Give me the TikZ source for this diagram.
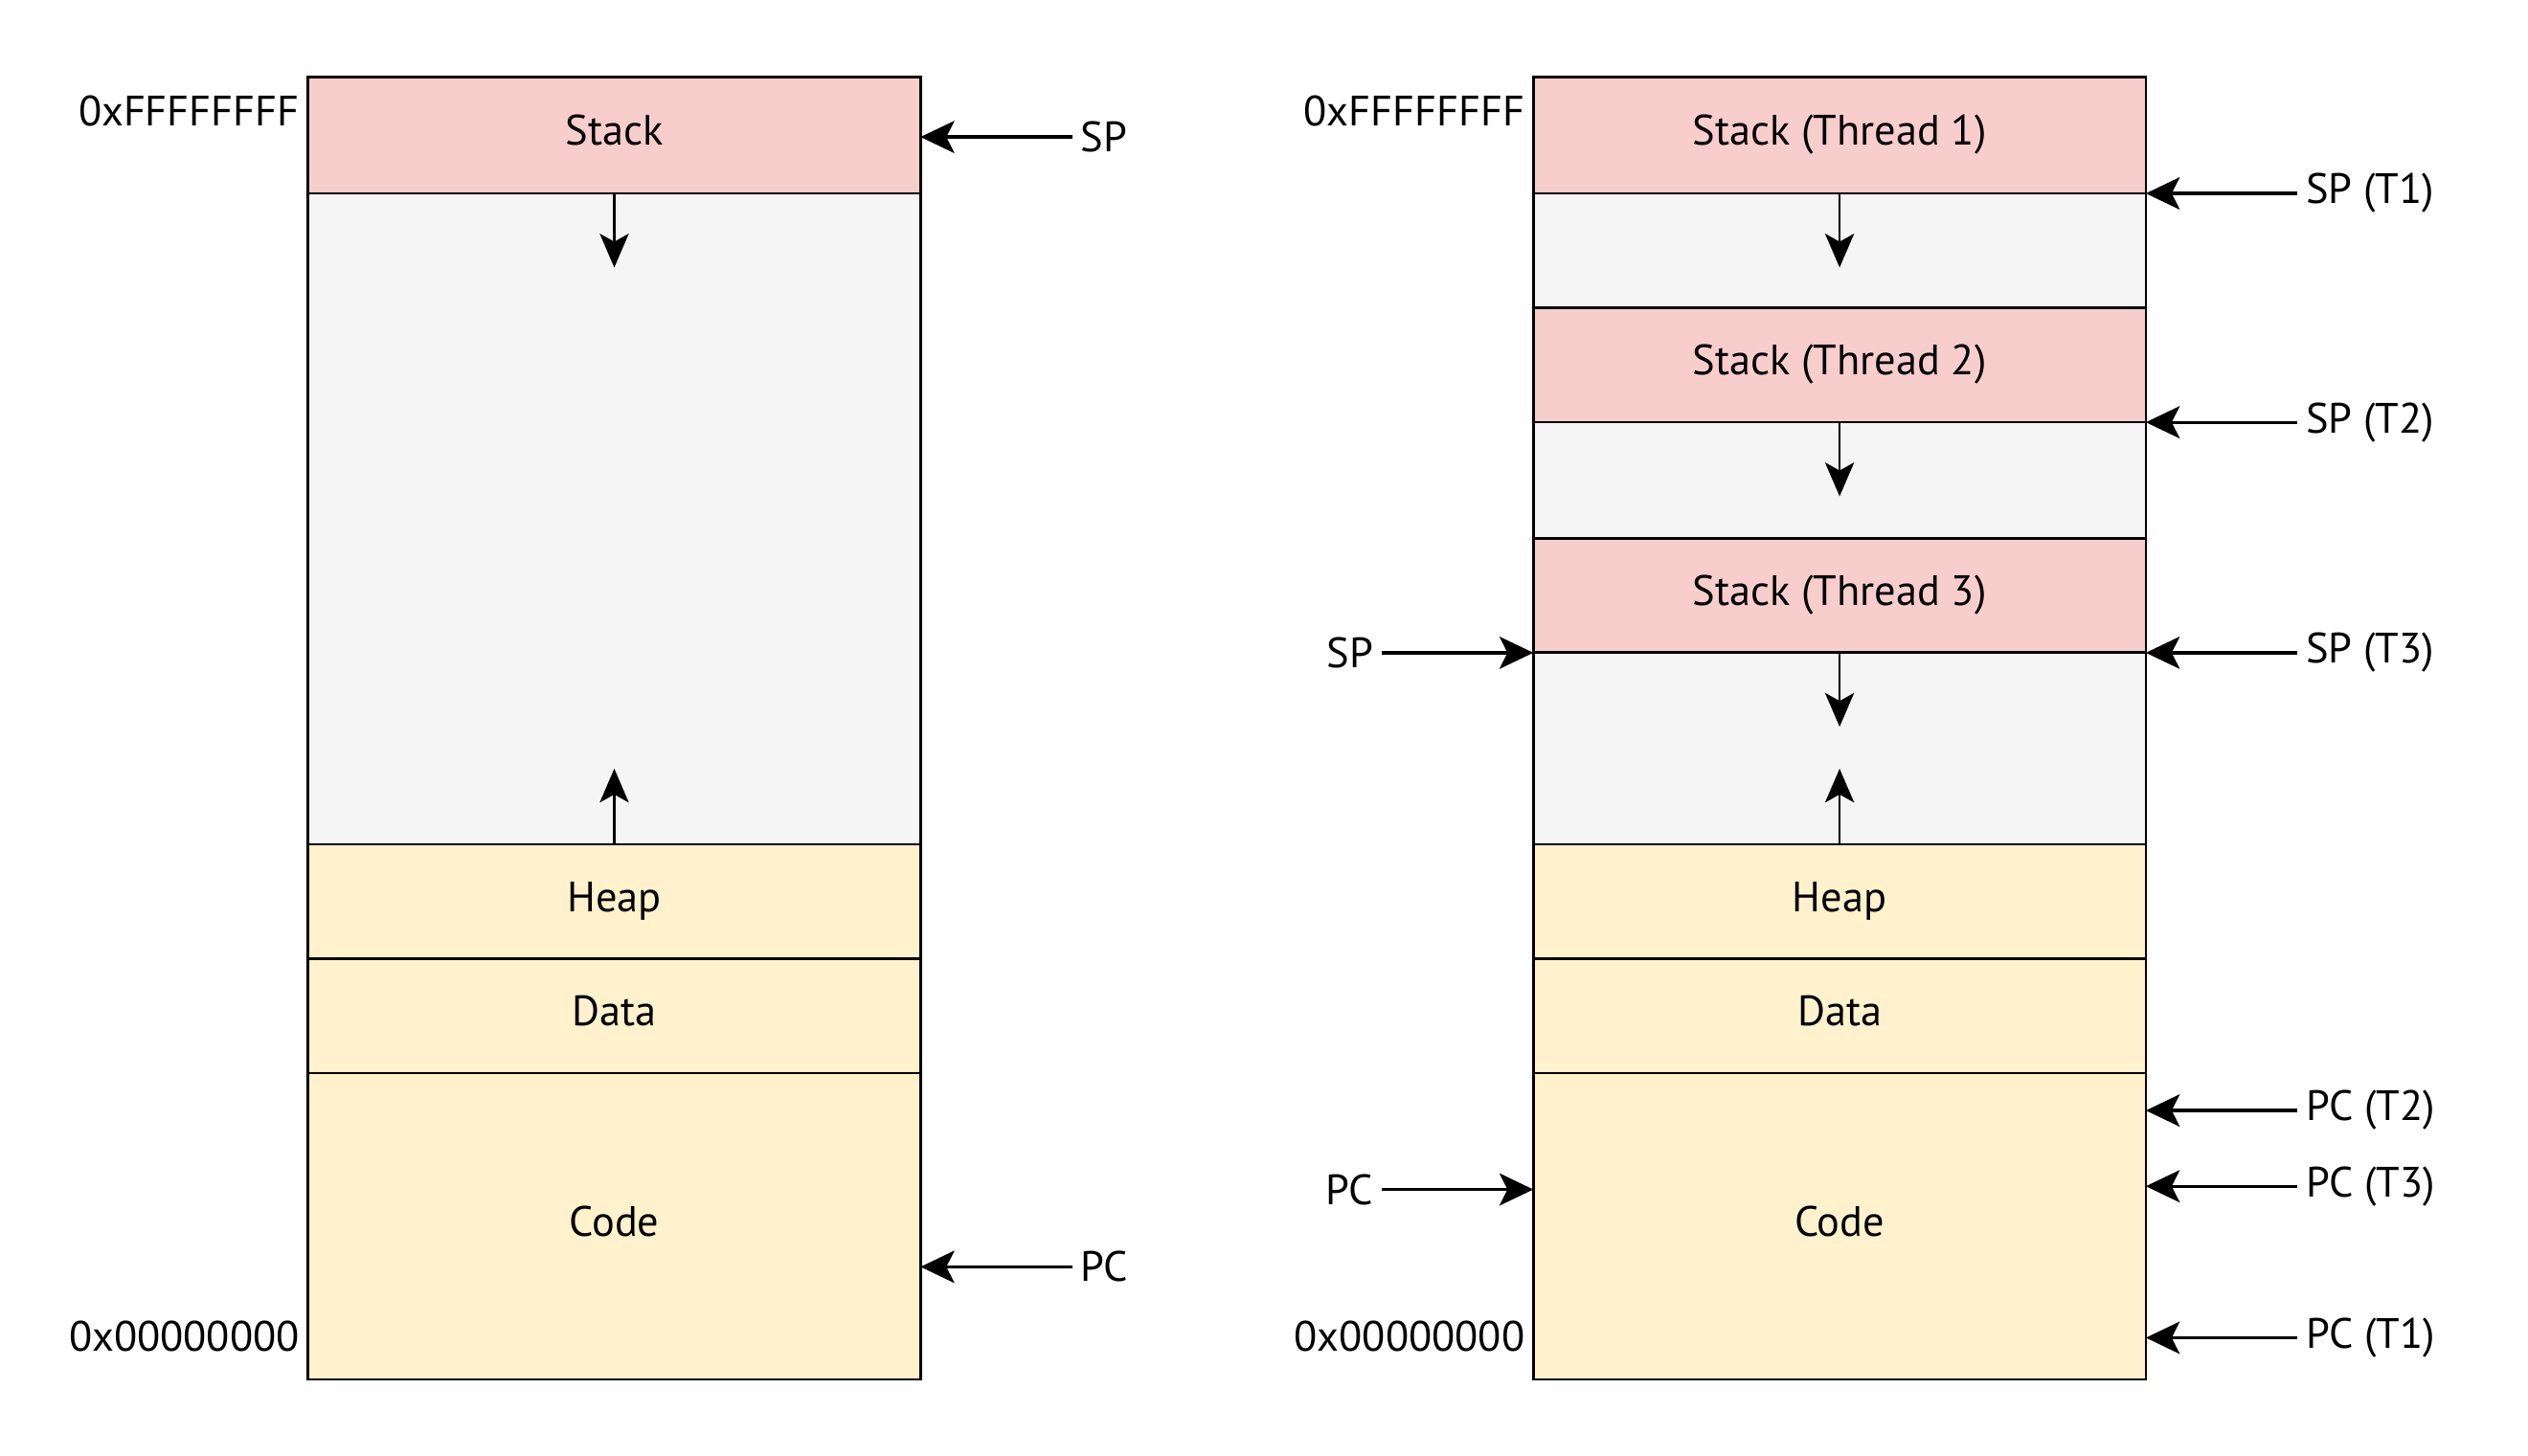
\documentclass[tikz,border=0pt]{standalone}
\usepackage{fontspec}
\setmainfont{PT Sans}
\usetikzlibrary{positioning,arrows.meta}
\definecolor{stackred}{HTML}{F8CECC}
\definecolor{freegray}{HTML}{F5F5F5}
\definecolor{segyellow}{HTML}{FFF2CC}

\tikzset{
  seg/.style={draw, line width=0.9pt, minimum width=7.6cm, minimum height=#1,
    inner sep=0pt, outer sep=0pt, anchor=north, text height=0.37cm, text depth=0.12cm},
  growarrow/.style={line width=0.7pt, -{Stealth[length=0.42cm, width=0.36cm, inset=0.1cm]}},
  ptr/.style={line width=1.1pt, -{Stealth[length=0.42cm, width=0.4cm, inset=0.1cm]}},
  ptrlabel/.style={inner sep=0.1cm},
}

\begin{document}
\begin{tikzpicture}[x=0.02cm, y=-0.02cm, font=\fontsize{15pt}{18pt}\selectfont]
    \useasboundingbox (0,0) rectangle (1568,903);

    % single-threaded address space
    \node[seg=1.44cm, fill=stackred] (stackA) at (381,48) {Stack};
    \node[seg=8.08cm, fill=freegray, below=0pt of stackA] (freeA) {};
    \node[seg=1.42cm, fill=segyellow, below=0pt of freeA] (heapA) {Heap};
    \node[seg=1.42cm, fill=segyellow, below=0pt of heapA] (dataA) {Data};
    \node[seg=3.8cm, fill=segyellow, below=0pt of dataA] (codeA) {Code};

    \node[anchor=east, inner sep=0pt] (topA) at (186,69) {0xFFFFFFFF};
    \node[anchor=east, inner sep=0pt] (botA) at (186,829) {0x00000000};

    \coordinate[below=0.92cm of stackA.south] (downA);
    \draw[growarrow] (stackA.south) -- (downA);
    \coordinate[above=0.94cm of heapA.north] (upA);
    \draw[growarrow] (heapA.north) -- (upA);

    \node[ptrlabel, anchor=west] (spA) at (665,85) {SP};
    \draw[ptr] (spA) -- (stackA.east |- spA);
    \node[ptrlabel, anchor=west] (pcA) at (665,786) {PC};
    \draw[ptr] (pcA) -- (codeA.east |- pcA);

    % multi-threaded address space
    \node[seg=1.44cm, fill=stackred] (stk1) at (1141,48) {Stack (Thread 1)};
    \node[seg=1.42cm, fill=freegray, below=0pt of stk1] (gap1) {};
    \node[seg=1.42cm, fill=stackred, below=0pt of gap1] (stk2) {Stack (Thread 2)};
    \node[seg=1.44cm, fill=freegray, below=0pt of stk2] (gap2) {};
    \node[seg=1.42cm, fill=stackred, below=0pt of gap2] (stk3) {Stack (Thread 3)};
    \node[seg=2.38cm, fill=freegray, below=0pt of stk3] (gap3) {};
    \node[seg=1.42cm, fill=segyellow, below=0pt of gap3] (heapB) {Heap};
    \node[seg=1.42cm, fill=segyellow, below=0pt of heapB] (dataB) {Data};
    \node[seg=3.8cm, fill=segyellow, below=0pt of dataB] (codeB) {Code};

    \node[anchor=east, inner sep=0pt] (topB) at (946,69) {0xFFFFFFFF};
    \node[anchor=east, inner sep=0pt] (botB) at (946,829) {0x00000000};

    \foreach \s in {stk1,stk2,stk3} {
        \coordinate[below=0.92cm of \s.south] (\s-tip);
        \draw[growarrow] (\s.south) -- (\s-tip);
    }
    \coordinate[above=0.94cm of heapB.north] (upB);
    \draw[growarrow] (heapB.north) -- (upB);

    \foreach \y/\t/\n in {120/SP (T1)/sp1, 262/SP (T2)/sp2, 405/SP (T3)/sp3,
                          689/PC (T2)/pc2, 736/PC (T3)/pc3, 830/PC (T1)/pc1} {
        \node[ptrlabel, anchor=west] (\n) at (1425,\y) {\t};
        \draw[ptr] (\n) -- (codeB.east |- \n);
    }

    \node[ptrlabel, anchor=east] (spB) at (857,405) {SP};
    \draw[ptr] (spB) -- (codeB.west |- spB);
    \node[ptrlabel, anchor=east] (pcB) at (857,738) {PC};
    \draw[ptr] (pcB) -- (codeB.west |- pcB);
\end{tikzpicture}
\end{document}
